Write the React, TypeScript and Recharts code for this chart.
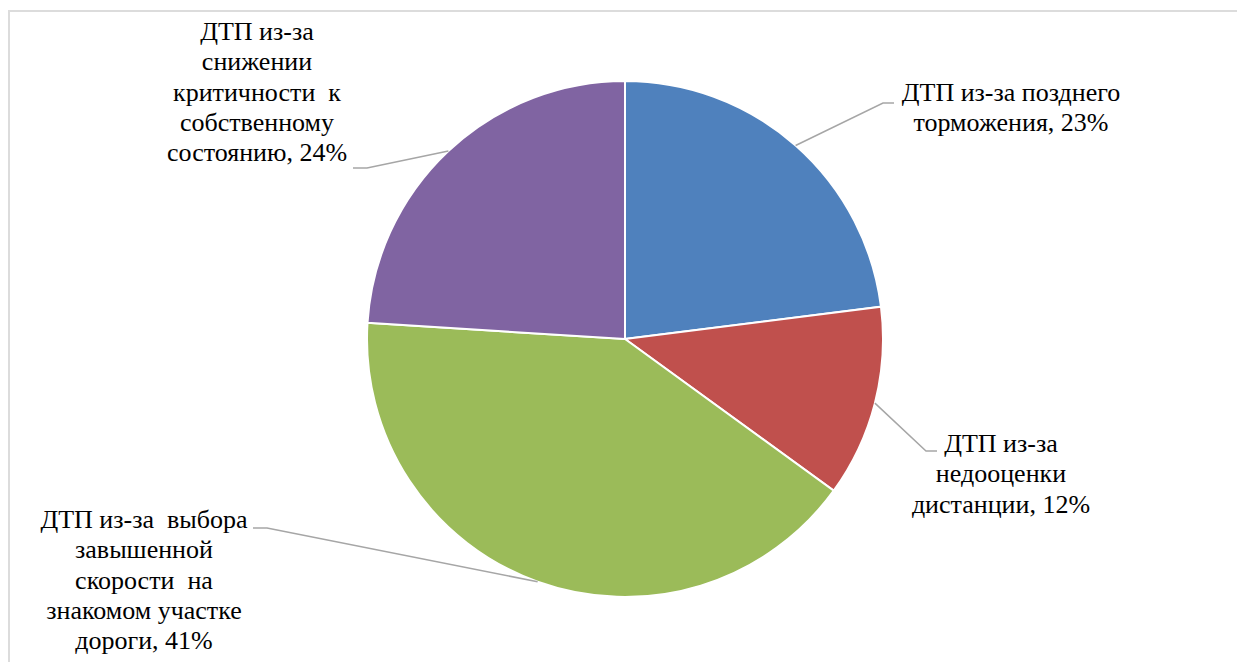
import { PieChart, Pie, Cell } from 'recharts';

// categories (line breaks follow the original label wrapping)
const categories = [
  'ДТП из-за позднего\nторможения',
  'ДТП из-за\nнедооценки\nдистанции',
  'ДТП из-за  выбора\nзавышенной\nскорости  на\nзнакомом участке\nдороги',
  'ДТП из-за\nснижении\nкритичности  к\nсобственному\nсостоянию',
];
const shares = [23, 12, 41, 24];
const colors = ['#4F81BD', '#C0504D', '#9BBB59', '#8064A2'];

// label placement relative to pie centre: elbow, end of leader, text centre and first baseline
const labelLayout = [
  { ex: 258, ey: -236, tx: 269, textX: 386, textY: -238 },
  { ex: 301, ey: 112, tx: 312, textX: 376, textY: 113 },
  { ex: -358, ey: 189, tx: -372, textX: -481, textY: 189 },
  { ex: -258, ey: -171, tx: -272, textX: -368, textY: -299 },
];

const data = categories.map((name, i) => ({ name, value: shares[i] }));

const RAD = Math.PI / 180;
const LINE_H = 30.3;
const FONT = '"Liberation Serif", "Times New Roman", serif';

function renderLabel(props: any) {
  const { cx, cy, midAngle, outerRadius, index } = props;
  const sx = cx + outerRadius * Math.cos(-midAngle * RAD);
  const sy = cy + outerRadius * Math.sin(-midAngle * RAD);
  const l = labelLayout[index];
  const lines = categories[index].split('\n');
  lines[lines.length - 1] += `, ${shares[index]}%`;
  return (
    <g key={`lbl-${index}`}>
      <polyline
        points={`${sx},${sy} ${cx + l.ex},${cy + l.ey} ${cx + l.tx},${cy + l.ey}`}
        fill="none"
        stroke="#a6a6a6"
        strokeWidth={1.5}
      />
      <text
        x={cx + l.textX}
        y={cy + l.textY}
        textAnchor="middle"
        fill="#000"
        fontFamily={FONT}
        fontSize={26}
        style={{ whiteSpace: 'pre' }}
      >
        {lines.map((ln, j) => (
          <tspan key={j} x={cx + l.textX} y={cy + l.textY + j * LINE_H}>
            {ln}
          </tspan>
        ))}
      </text>
    </g>
  );
}

export default function App() {
  return (
    <div style={{ position: 'fixed', left: 0, top: 0, width: 1237, height: 662, overflow: 'hidden', background: '#fff' }}>
      <div
        style={{
          position: 'absolute',
          left: 8,
          top: 10,
          width: 1240,
          height: 700,
          borderTop: '2px solid #dcdcdc',
          borderLeft: '2px solid #dcdcdc',
          boxSizing: 'border-box',
        }}
      />
      <div style={{ position: 'absolute', left: 0, top: 0 }}>
        <PieChart width={1237} height={662} margin={{ top: 0, right: 0, bottom: 0, left: 0 }}>
          <Pie
            data={data}
            dataKey="value"
            nameKey="name"
            cx={625}
            cy={339}
            outerRadius={258}
            startAngle={90}
            endAngle={-270}
            stroke="#fff"
            strokeWidth={2}
            label={renderLabel}
            labelLine={false}
            isAnimationActive={false}
          >
            {data.map((d, i) => (
              <Cell key={d.name} fill={colors[i]} />
            ))}
          </Pie>
        </PieChart>
      </div>
    </div>
  );
}
